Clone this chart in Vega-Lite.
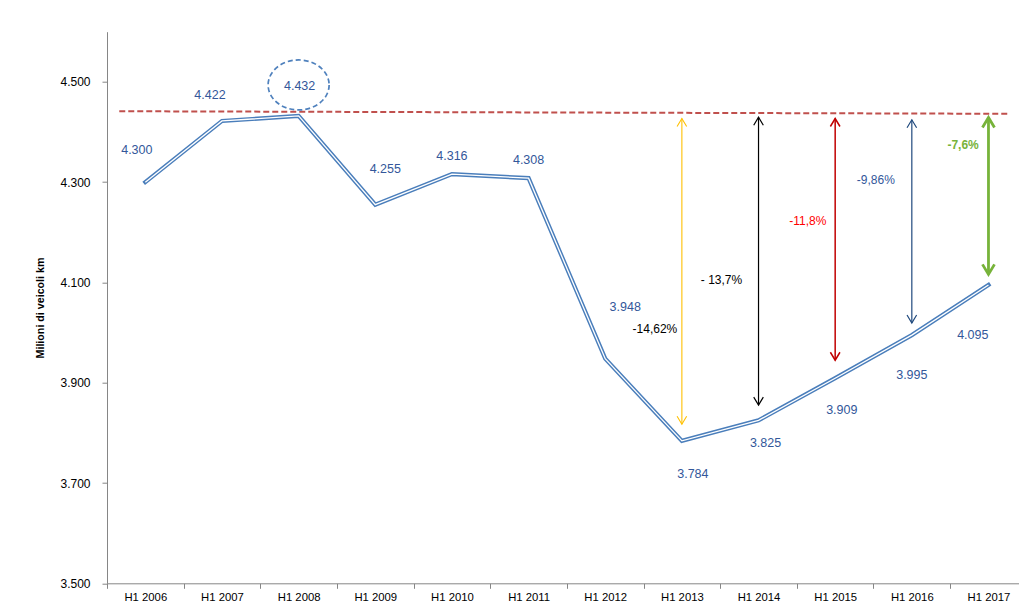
{
  "$schema": "https://vega.github.io/schema/vega-lite/v6.json",
  "width": 912,
  "height": 551.6,
  "autosize": {"type": "none"},
  "padding": {"left": 107, "top": 31.7, "right": 0, "bottom": 19.7},
  "background": "white",
  "config": {"view": {"stroke": null}, "axis": {"grid": false}},
  "datasets": {
    "main": [
      {"cat": "H1 2006", "y": 4.300},
      {"cat": "H1 2007", "y": 4.422},
      {"cat": "H1 2008", "y": 4.432},
      {"cat": "H1 2009", "y": 4.255},
      {"cat": "H1 2010", "y": 4.316},
      {"cat": "H1 2011", "y": 4.308},
      {"cat": "H1 2012", "y": 3.948},
      {"cat": "H1 2013", "y": 3.784},
      {"cat": "H1 2014", "y": 3.825},
      {"cat": "H1 2015", "y": 3.909},
      {"cat": "H1 2016", "y": 3.995},
      {"cat": "H1 2017", "y": 4.095}
    ],
    "ref": [
      {"cat": "H1 2006", "cat2": "H1 2017", "y": 4.4414, "y2": 4.4363}
    ],
    "arrows": [
      {"cat": "H1 2013", "y": 4.4269, "y2": 3.8173},
      {"cat": "H1 2014", "y": 4.4295, "y2": 3.8552},
      {"cat": "H1 2015", "y": 4.4269, "y2": 3.9448},
      {"cat": "H1 2016", "y": 4.4243, "y2": 4.0191},
      {"cat": "H1 2017", "y": 4.4289, "y2": 4.1161}
    ],
    "pct": [
      {"cat": "H1 2013", "y": 4.0066, "label": "-14,62%"},
      {"cat": "H1 2014", "y": 4.1046, "label": "- 13,7%"},
      {"cat": "H1 2015", "y": 4.2221, "label": "-11,8%"},
      {"cat": "H1 2016", "y": 4.3038, "label": "-9,86%"},
      {"cat": "H1 2017", "y": 4.3737, "label": "-7,6%"}
    ]
  },
  "encoding": {
    "x": {
      "field": "cat", "type": "nominal", "title": null,
      "scale": {"type": "band", "domain": ["H1 2006","H1 2007","H1 2008","H1 2009","H1 2010","H1 2011","H1 2012","H1 2013","H1 2014","H1 2015","H1 2016","H1 2017"], "range": [0, 919.8], "paddingInner": 0, "paddingOuter": 0},
      "axis": {"tickBand": "extent", "tickSize": 5, "tickColor": "#868686", "domainColor": "#868686", "labelFont": "Liberation Sans", "labelFontSize": 11.3, "labelColor": "#000000", "labelPadding": 3, "labelAngle": 0}
    },
    "y": {
      "field": "y", "type": "quantitative", "title": "Milioni di veicoli km",
      "scale": {"domain": [3.5, 4.6], "nice": false, "zero": false},
      "axis": {"values": [3.5, 3.7, 3.9, 4.1, 4.3, 4.5], "format": ".3f", "tickSize": 5, "tickColor": "#868686", "domainColor": "#868686", "labelFont": "Liberation Sans", "labelFontSize": 12, "labelColor": "#000000", "labelPadding": 12, "titleFont": "Liberation Sans", "titleFontSize": 10.7, "titleFontWeight": "bold", "titleColor": "#000000", "titlePadding": 14}
    }
  },
  "layer": [
    {
      "data": {"name": "ref"},
      "mark": {"type": "rule", "color": "#c0504d", "strokeWidth": 2, "strokeDash": [6, 3]},
      "encoding": {
        "x": {"field": "cat", "type": "nominal", "bandPosition": 0.16},
        "x2": {"field": "cat2", "bandPosition": 0.77},
        "y2": {"field": "y2"}
      }
    },
    {
      "data": {"name": "main"},
      "mark": {"type": "line", "color": "#4a7ebb", "strokeWidth": 4.2, "strokeCap": "square"},
      "encoding": {}
    },
    {
      "data": {"name": "main"},
      "mark": {"type": "line", "color": "#ffffff", "strokeWidth": 1.3},
      "encoding": {}
    },
    {
      "data": {"name": "arrows"},
      "mark": {"type": "rule"},
      "encoding": {
        "y2": {"field": "y2"},
        "color": {"field": "cat", "type": "nominal", "legend": null, "scale": {"domain": ["H1 2013","H1 2014","H1 2015","H1 2016","H1 2017"], "range": ["#ffc000","#000000","#c00000","#1f497d","#77b33a"]}},
        "strokeWidth": {"field": "cat", "type": "nominal", "legend": null, "scale": {"type": "ordinal", "domain": ["H1 2013","H1 2014","H1 2015","H1 2016","H1 2017"], "range": [1.1, 1.2, 1.5, 1.2, 2.8]}}
      }
    },
    {
      "data": {"name": "arrows"},
      "mark": {"type": "point", "shape": "M-0.6,1L0,0L0.6,1", "filled": false, "opacity": 1},
      "encoding": {
        "color": {"field": "cat", "type": "nominal", "legend": null, "scale": {"domain": ["H1 2013","H1 2014","H1 2015","H1 2016","H1 2017"], "range": ["#ffc000","#000000","#c00000","#1f497d","#77b33a"]}},
        "strokeWidth": {"field": "cat", "type": "nominal", "legend": null, "scale": {"type": "ordinal", "domain": ["H1 2013","H1 2014","H1 2015","H1 2016","H1 2017"], "range": [1.1, 1.2, 1.5, 1.2, 2.8]}},
        "size": {"field": "cat", "type": "nominal", "legend": null, "scale": {"type": "ordinal", "domain": ["H1 2013","H1 2014","H1 2015","H1 2016","H1 2017"], "range": [256, 256, 256, 256, 400]}}
      }
    },
    {
      "data": {"name": "arrows"},
      "mark": {"type": "point", "shape": "M-0.6,-1L0,0L0.6,-1", "filled": false, "opacity": 1},
      "encoding": {
        "y": {"field": "y2", "type": "quantitative", "scale": {"domain": [3.5, 4.6], "nice": false, "zero": false}},
        "color": {"field": "cat", "type": "nominal", "legend": null, "scale": {"domain": ["H1 2013","H1 2014","H1 2015","H1 2016","H1 2017"], "range": ["#ffc000","#000000","#c00000","#1f497d","#77b33a"]}},
        "strokeWidth": {"field": "cat", "type": "nominal", "legend": null, "scale": {"type": "ordinal", "domain": ["H1 2013","H1 2014","H1 2015","H1 2016","H1 2017"], "range": [1.1, 1.2, 1.5, 1.2, 2.8]}},
        "size": {"field": "cat", "type": "nominal", "legend": null, "scale": {"type": "ordinal", "domain": ["H1 2013","H1 2014","H1 2015","H1 2016","H1 2017"], "range": [256, 256, 256, 256, 400]}}
      }
    },
    {
      "data": {"name": "main"},
      "transform": [{"filter": "datum.cat === 'H1 2008'"}],
      "mark": {"type": "point", "shape": "M1,-1.016C1,-0.5631,0.5523,-0.196,0,-0.196C-0.5523,-0.196,-1,-0.5631,-1,-1.016C-1,-1.4689,-0.5523,-1.836,0,-1.836C0.5523,-1.836,1,-1.4689,1,-1.016Z", "filled": false, "size": 3721, "color": "#4f81bd", "strokeWidth": 1.7, "strokeDash": [5, 3], "opacity": 1},
      "encoding": {}
    },
    {"data": {"name": "main"}, "transform": [{"filter": "datum.cat === 'H1 2006'"}], "mark": {"type": "text", "font": "Liberation Sans", "fontSize": 12.5, "color": "#33579a", "baseline": "middle", "align": "center", "dx": -8.5, "dy": -32}, "encoding": {"text": {"field": "y", "format": ".3f"}}},
    {"data": {"name": "main"}, "transform": [{"filter": "datum.cat === 'H1 2007'"}], "mark": {"type": "text", "font": "Liberation Sans", "fontSize": 12.5, "color": "#33579a", "baseline": "middle", "align": "center", "dx": -12, "dy": -25.5}, "encoding": {"text": {"field": "y", "format": ".3f"}}},
    {"data": {"name": "main"}, "transform": [{"filter": "datum.cat === 'H1 2008'"}], "mark": {"type": "text", "font": "Liberation Sans", "fontSize": 12.5, "color": "#33579a", "baseline": "middle", "align": "center", "dx": 1, "dy": -30}, "encoding": {"text": {"field": "y", "format": ".3f"}}},
    {"data": {"name": "main"}, "transform": [{"filter": "datum.cat === 'H1 2009'"}], "mark": {"type": "text", "font": "Liberation Sans", "fontSize": 12.5, "color": "#33579a", "baseline": "middle", "align": "center", "dx": 10, "dy": -36}, "encoding": {"text": {"field": "y", "format": ".3f"}}},
    {"data": {"name": "main"}, "transform": [{"filter": "datum.cat === 'H1 2010' || datum.cat === 'H1 2011'"}], "mark": {"type": "text", "font": "Liberation Sans", "fontSize": 12.5, "color": "#33579a", "baseline": "middle", "align": "center", "dx": 0, "dy": -18}, "encoding": {"text": {"field": "y", "format": ".3f"}}},
    {"data": {"name": "main"}, "transform": [{"filter": "datum.cat === 'H1 2012'"}], "mark": {"type": "text", "font": "Liberation Sans", "fontSize": 12.5, "color": "#33579a", "baseline": "middle", "align": "center", "dx": 20, "dy": -52}, "encoding": {"text": {"field": "y", "format": ".3f"}}},
    {"data": {"name": "main"}, "transform": [{"filter": "datum.cat === 'H1 2013'"}], "mark": {"type": "text", "font": "Liberation Sans", "fontSize": 12.5, "color": "#33579a", "baseline": "middle", "align": "center", "dx": 11, "dy": 33.6}, "encoding": {"text": {"field": "y", "format": ".3f"}}},
    {"data": {"name": "main"}, "transform": [{"filter": "datum.cat === 'H1 2014'"}], "mark": {"type": "text", "font": "Liberation Sans", "fontSize": 12.5, "color": "#33579a", "baseline": "middle", "align": "center", "dx": 7, "dy": 22.5}, "encoding": {"text": {"field": "y", "format": ".3f"}}},
    {"data": {"name": "main"}, "transform": [{"filter": "datum.cat === 'H1 2015'"}], "mark": {"type": "text", "font": "Liberation Sans", "fontSize": 12.5, "color": "#33579a", "baseline": "middle", "align": "center", "dx": 6.6, "dy": 32}, "encoding": {"text": {"field": "y", "format": ".3f"}}},
    {"data": {"name": "main"}, "transform": [{"filter": "datum.cat === 'H1 2016'"}], "mark": {"type": "text", "font": "Liberation Sans", "fontSize": 12.5, "color": "#33579a", "baseline": "middle", "align": "center", "dx": 0, "dy": 39.5}, "encoding": {"text": {"field": "y", "format": ".3f"}}},
    {"data": {"name": "main"}, "transform": [{"filter": "datum.cat === 'H1 2017'"}], "mark": {"type": "text", "font": "Liberation Sans", "fontSize": 12.5, "color": "#33579a", "baseline": "middle", "align": "center", "dx": -15.7, "dy": 49.7}, "encoding": {"text": {"field": "y", "format": ".3f"}}},
    {"data": {"name": "pct"}, "transform": [{"filter": "datum.cat === 'H1 2013'"}], "mark": {"type": "text", "font": "Liberation Sans", "fontSize": 12, "color": "#000000", "baseline": "middle", "align": "center", "dx": -27}, "encoding": {"text": {"field": "label"}}},
    {"data": {"name": "pct"}, "transform": [{"filter": "datum.cat === 'H1 2014'"}], "mark": {"type": "text", "font": "Liberation Sans", "fontSize": 12, "color": "#000000", "baseline": "middle", "align": "center", "dx": -37}, "encoding": {"text": {"field": "label"}}},
    {"data": {"name": "pct"}, "transform": [{"filter": "datum.cat === 'H1 2015'"}], "mark": {"type": "text", "font": "Liberation Sans", "fontSize": 12, "color": "#ff0000", "baseline": "middle", "align": "center", "dx": -27.4}, "encoding": {"text": {"field": "label"}}},
    {"data": {"name": "pct"}, "transform": [{"filter": "datum.cat === 'H1 2016'"}], "mark": {"type": "text", "font": "Liberation Sans", "fontSize": 12, "color": "#33579a", "baseline": "middle", "align": "center", "dx": -36}, "encoding": {"text": {"field": "label"}}},
    {"data": {"name": "pct"}, "transform": [{"filter": "datum.cat === 'H1 2017'"}], "mark": {"type": "text", "font": "Liberation Sans", "fontSize": 12, "fontWeight": "bold", "color": "#77b33a", "baseline": "middle", "align": "center", "dx": -25.4}, "encoding": {"text": {"field": "label"}}}
  ]
}
